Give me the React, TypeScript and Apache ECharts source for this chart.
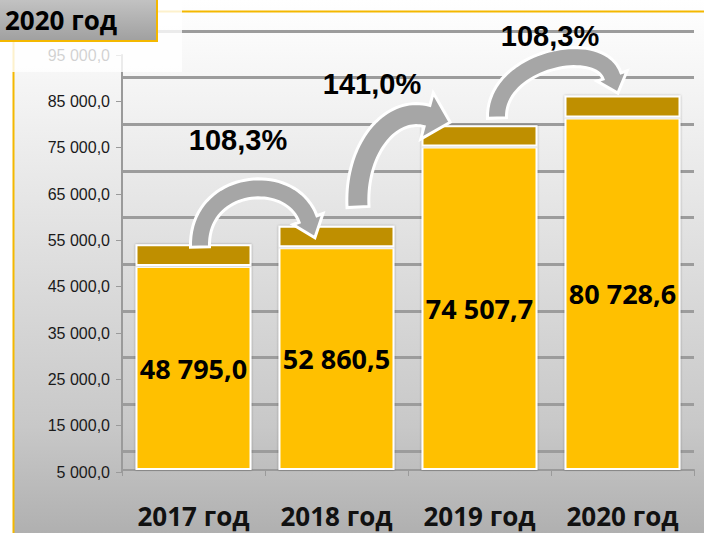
import React, { useEffect, useRef } from 'react';
import * as echarts from 'echarts';

const categories = ['2017 год', '2018 год', '2019 год', '2020 год'];
const mainValues = [48795.0, 52860.5, 74507.7, 80728.6];
const topFaceValues = [4700, 4600, 4550, 4700];
const axisMin = 5000;
const axisMax = 95000;
const axisStep = 10000;
const growthLabels = ['108,3%', '141,0%', '108,3%'];
const boxTitle = '2020 год';

function fmt(v: number): string {
  const s = v.toFixed(1);
  const [i, d] = s.split('.');
  return i.replace(/\B(?=(\d{3})+(?!\d))/g, ' ') + ',' + d;
}

type P = [number, number];

function arrowPoly(p0: P, p1: P, p2: P, p3: P, w: number, hh: number, hl: number): number[][] {
  const N = 40;
  const left: number[][] = [];
  const right: number[][] = [];
  const bez = (t: number): P => {
    const u = 1 - t;
    return [
      u * u * u * p0[0] + 3 * u * u * t * p1[0] + 3 * u * t * t * p2[0] + t * t * t * p3[0],
      u * u * u * p0[1] + 3 * u * u * t * p1[1] + 3 * u * t * t * p2[1] + t * t * t * p3[1],
    ];
  };
  const der = (t: number): P => {
    const u = 1 - t;
    const dx = 3 * u * u * (p1[0] - p0[0]) + 6 * u * t * (p2[0] - p1[0]) + 3 * t * t * (p3[0] - p2[0]);
    const dy = 3 * u * u * (p1[1] - p0[1]) + 6 * u * t * (p2[1] - p1[1]) + 3 * t * t * (p3[1] - p2[1]);
    const l = Math.hypot(dx, dy) || 1;
    return [dx / l, dy / l];
  };
  for (let i = 0; i <= N; i++) {
    const t = i / N;
    const b = bez(t);
    const d = der(t);
    const n: P = [-d[1], d[0]];
    left.push([b[0] + (n[0] * w) / 2, b[1] + (n[1] * w) / 2]);
    right.push([b[0] - (n[0] * w) / 2, b[1] - (n[1] * w) / 2]);
  }
  const T = der(1);
  const n: P = [-T[1], T[0]];
  const pts: number[][] = [...left];
  pts.push([p3[0] + n[0] * hh, p3[1] + n[1] * hh]);
  pts.push([p3[0] + T[0] * hl, p3[1] + T[1] * hl]);
  pts.push([p3[0] - n[0] * hh, p3[1] - n[1] * hh]);
  for (let i = right.length - 1; i >= 0; i--) pts.push(right[i]);
  return pts;
}

export default function App() {
  const ref = useRef<HTMLDivElement>(null);
  useEffect(() => {
    if (!ref.current) return;
    const chart = echarts.init(ref.current, undefined, { renderer: 'svg' });

    const arrows = [
      arrowPoly([200, 247], [198, 180], [290, 170], [308, 219], 19, 16, 20),
      arrowPoly([358, 207], [355, 150], [390, 106], [427, 116], 22, 24, 24),
      arrowPoly([497, 118], [495, 60], [599, 38], [612, 76], 19, 16, 18),
    ];
    const pctPos: P[] = [[238, 140], [372, 84], [550, 36]];

    const boldFont = 'Open Sans';
    const gridLeft = 122;
    const gridRight = 10;

    const option: any = {
      animation: false,
      grid: [
        { left: gridLeft, right: gridRight, top: 55, bottom: 61 },
        { left: gridLeft, right: gridRight, top: 31, bottom: 82 },
        { left: gridLeft, right: gridRight, top: 51, bottom: 63 },
      ],
      xAxis: [
        { type: 'category', gridIndex: 0, data: categories, show: false },
        { type: 'category', gridIndex: 1, data: categories, show: false },
        {
          type: 'category',
          gridIndex: 2,
          data: categories,
          axisLine: { show: true, lineStyle: { color: '#9a9a9a', width: 2 } },
          axisTick: { show: true, length: 6, lineStyle: { color: '#9a9a9a' } },
          axisLabel: {
            interval: 0,
            hideOverlap: false,
            margin: 33,
            fontSize: 26,
            lineHeight: 26,
            fontWeight: 'bold',
            fontFamily: boldFont,
            color: '#111',
          },
        },
      ],
      yAxis: [
        {
          type: 'value',
          gridIndex: 0,
          min: axisMin,
          max: axisMax,
          interval: axisStep,
          axisLine: { show: true, lineStyle: { color: '#9a9a9a', width: 2 } },
          axisTick: { show: true, length: 6, lineStyle: { color: '#9a9a9a' } },
          splitLine: { show: false },
          axisLabel: {
            formatter: (v: number) => fmt(v),
            fontSize: 16,
            fontFamily: 'Liberation Sans',
            color: '#1a1a1a',
            margin: 12,
          },
        },
        {
          type: 'value',
          gridIndex: 1,
          min: axisMin,
          max: axisMax,
          interval: axisStep,
          axisLine: { show: false },
          axisTick: { show: false },
          axisLabel: { show: false },
          splitLine: { show: true, lineStyle: { color: '#9c9c9c', width: 3 } },
        },
        {
          type: 'value',
          gridIndex: 2,
          min: axisMin,
          max: axisMax,
          interval: axisStep,
          startValue: axisMin,
          show: false,
          splitLine: { show: false },
        },
      ],
      series: [
        {
          type: 'bar',
          xAxisIndex: 2,
          yAxisIndex: 2,
          stack: 'total',
          barWidth: 116,
          data: mainValues,
          itemStyle: {
            color: '#ffc000',
            borderColor: '#ffffff',
            borderWidth: 2,
            shadowColor: 'rgba(0,0,0,0.35)',
            shadowBlur: 2,
          },
          label: {
            show: true,
            position: 'inside',
            formatter: (p: any) => fmt(p.value),
            fontSize: 27,
            fontWeight: 'bold',
            fontFamily: boldFont,
            color: '#000',
          },
        },
        {
          type: 'bar',
          xAxisIndex: 2,
          yAxisIndex: 2,
          stack: 'total',
          barWidth: 116,
          data: topFaceValues,
          itemStyle: {
            color: '#bf8f00',
            borderColor: '#ffffff',
            borderWidth: 2,
            shadowColor: 'rgba(0,0,0,0.35)',
            shadowBlur: 2,
          },
        },
      ],
      graphic: [
        { type: 'rect', z: 1, shape: { x: 0, y: 0, width: 13, height: 533 }, style: { fill: '#ffffff' } },
        { type: 'line', z: 1, shape: { x1: 13.5, y1: 0, x2: 13.5, y2: 533 }, style: { stroke: '#f4b800', lineWidth: 2 } },
        { type: 'line', z: 1, shape: { x1: 13, y1: 11.5, x2: 704, y2: 11.5 }, style: { stroke: '#f4b800', lineWidth: 2 } },
        { type: 'rect', z: 50, shape: { x: 0, y: 0, width: 182, height: 72 }, style: { fill: 'rgba(255,255,255,0.8)' } },
        ...arrows.map((pts) => ({
          type: 'polygon',
          z: 40,
          shape: { points: pts },
          style: { fill: '#a6a6a6', stroke: '#ffffff', lineWidth: 3, lineJoin: 'miter' },
        })),
        ...growthLabels.map((t, i) => ({
          type: 'text',
          z: 45,
          x: pctPos[i][0],
          y: pctPos[i][1],
          style: {
            text: t,
            fill: '#000',
            font: 'bold 29px "Liberation Sans", Arial, sans-serif',
            align: 'center',
            verticalAlign: 'middle',
          },
        })),
        {
          type: 'rect',
          z: 60,
          shape: { x: 0, y: 0, width: 157, height: 41 },
          style: {
            fill: {
              type: 'linear', x: 0, y: 0, x2: 0, y2: 1,
              colorStops: [
                { offset: 0, color: '#c2c2c2' },
                { offset: 1, color: '#a0a0a0' },
              ],
            },
          },
        },
        { type: 'line', z: 61, shape: { x1: 157, y1: 0, x2: 157, y2: 41 }, style: { stroke: '#f4b800', lineWidth: 2 } },
        { type: 'line', z: 61, shape: { x1: 0, y1: 41, x2: 158, y2: 41 }, style: { stroke: '#f4b800', lineWidth: 2 } },
        {
          type: 'text',
          z: 62,
          x: 5,
          y: 20,
          style: {
            text: boxTitle,
            fill: '#000',
            font: 'bold 26px "Open Sans", sans-serif',
            align: 'left',
            verticalAlign: 'middle',
          },
        },
      ],
    };
    chart.setOption(option);
    return () => chart.dispose();
  }, []);

  return (
    <div
      ref={ref}
      style={{
        position: 'absolute',
        left: 0,
        top: 0,
        width: 704,
        height: 533,
        background: 'linear-gradient(to bottom, #ffffff 0%, #f2f2f2 20%, #c8c8c8 80%, #b0b0b0 100%)',
      }}
    />
  );
}
